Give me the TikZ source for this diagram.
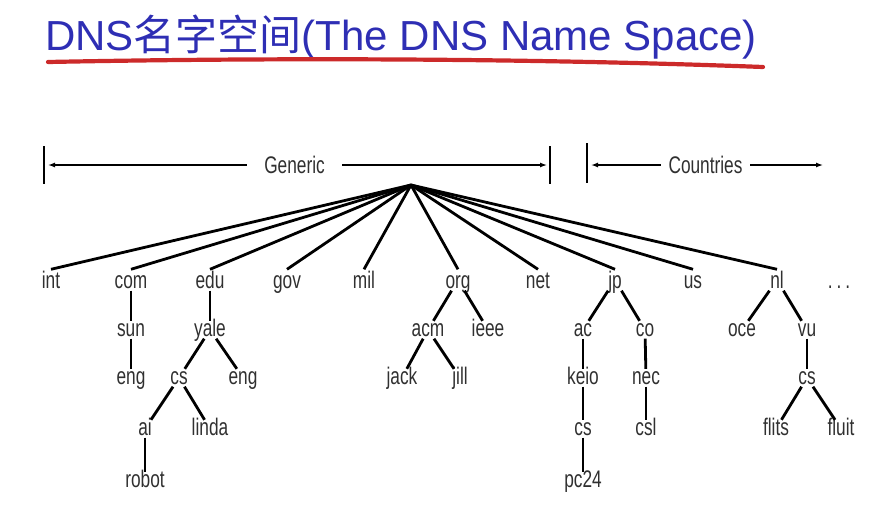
\documentclass[tikz,border=0pt]{standalone}
\usepackage{fontspec}
\usepackage{xcolor}
\usepackage{tikz}
\usetikzlibrary{arrows.meta}
\newfontfamily\labfont[FakeStretch=0.72]{Liberation Sans}
\newfontfamily\ttlfont{Liberation Sans}
\newfontfamily\cjkfont{Noto Sans CJK SC}
\definecolor{titleblue}{HTML}{2E2EB4}
\definecolor{markred}{HTML}{CC2A2A}
\definecolor{labgray}{HTML}{303030}

\begin{document}
\begin{tikzpicture}[x=1pt,y=-1pt,>={Latex[length=7pt,width=5pt]}]
\tikzset{lbl/.style={anchor=base,font=\labfont\fontsize{24}{24}\selectfont,text=labgray,inner xsep=2pt,inner ysep=2.5pt,text height=12.5pt,text depth=0pt},
  tld/.style={lbl,text height=16pt},
  dimlbl/.style={font=\labfont\fontsize{24}{24}\selectfont,text=labgray,inner ysep=0pt,text height=16.5pt,text depth=0pt},
  branch/.style={line width=2.8pt},
  dim/.style={->,line width=1.3pt},
  bar/.style={line width=1.3pt}}
\useasboundingbox (0,0) rectangle (893,522);
% title
\node[anchor=base west,inner sep=0pt,text=titleblue,font=\fontsize{42}{42}\selectfont] (ttl) at (45,50)
  {{\ttlfont DNS}{\cjkfont 名字空间}{\ttlfont (The DNS Name Space)}};
\draw[markred,line width=4.2pt,line cap=round] (48,62) .. controls (300,57) and (550,59) .. (763,67);
% generic / countries ranges
\node[dimlbl,inner xsep=17.5pt] (gen) at (294.5,165) {Generic};
\node[dimlbl,inner xsep=7.5pt] (ctry) at (705.5,165) {Countries};
\coordinate (genl) at (48,165);
\coordinate (genr) at (547,165);
\coordinate (ctryl) at (591,165);
\coordinate (ctryr) at (823,165);
\draw[bar] (44,146) -- (44,184);
\draw[bar] (550,146) -- (550,184);
\draw[bar] (587,143) -- (587,183);
\draw[dim] (gen) -- (genl);
\draw[dim] (gen) -- (genr);
\draw[dim] (ctry) -- (ctryl);
\draw[dim] (ctry) -- (ctryr);
% top level domains
\coordinate (root) at (411,185);
\node[tld] (int) at (51,288) {int};
\node[tld] (com) at (131,288) {com};
\node[tld] (edu) at (210,288) {edu};
\node[tld] (gov) at (287,288) {gov};
\node[tld] (mil) at (364,288) {mil};
\node[tld] (org) at (458,288) {org};
\node[tld] (net) at (538,288) {net};
\node[tld] (jp) at (615,288) {jp};
\node[tld] (us) at (693,288) {us};
\node[tld] (nl) at (777,288) {nl};
\node[lbl] (more) at (839,288) {.\,.\,.};
\foreach \d in {int,com,edu,gov,mil,org,net,jp,us,nl}
  \draw[branch] (root) -- (\d.north);
% second level
\node[lbl] (sun) at (131,336) {sun};
\node[lbl] (yale) at (210,336) {yale};
\node[lbl] (acm) at (428,336) {acm};
\node[lbl] (ieee) at (488,336) {ieee};
\node[lbl] (ac) at (583,336) {ac};
\node[lbl] (co) at (645,336) {co};
\node[lbl] (oce) at (742,336) {oce};
\node[lbl] (vu) at (807,336) {vu};
% third level
\node[lbl] (suneng) at (131,384) {eng};
\node[lbl] (yalecs) at (179,384) {cs};
\node[lbl] (yaleeng) at (243,384) {eng};
\node[lbl] (jack) at (402,384) {jack};
\node[lbl] (jill) at (460,384) {jill};
\node[lbl] (keio) at (583,384) {keio};
\node[lbl] (nec) at (646,384) {nec};
\node[lbl] (vucs) at (807,384) {cs};
% fourth and fifth level
\node[lbl] (ai) at (145,435) {ai};
\node[lbl] (linda) at (210,435) {linda};
\node[lbl] (keiocs) at (583,435) {cs};
\node[lbl] (csl) at (646,435) {csl};
\node[lbl] (flits) at (776,435) {flits};
\node[lbl] (fluit) at (841,435) {fluit};
\node[lbl] (robot) at (145,487) {robot};
\node[lbl] (pc24) at (583,487) {pc24};
% branches
\foreach \a/\b in {com/sun,sun/suneng,edu/yale,yale/yalecs,yale/yaleeng,yalecs/ai,yalecs/linda,ai/robot,
  org/acm,org/ieee,acm/jack,acm/jill,jp/ac,jp/co,ac/keio,keio/keiocs,keiocs/pc24,co/nec,nec/csl,
  nl/oce,nl/vu,vu/vucs,vucs/flits,vucs/fluit}
  \draw[branch] (\a) -- (\b);
\end{tikzpicture}
\end{document}
